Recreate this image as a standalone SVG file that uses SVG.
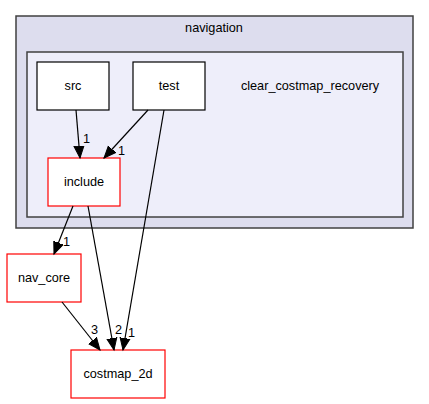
<svg xmlns="http://www.w3.org/2000/svg" width="429" height="404" viewBox="0 0 429 404">
<style>
text{font-family:"Liberation Sans",Arial,sans-serif;font-size:12.7px;fill:#000}
.c{text-anchor:middle}
.node{fill:#ffffff;stroke:#000;stroke-width:1.2}
.red{fill:#ffffff;stroke:#ff0000;stroke-width:1.2}
.edge{fill:none;stroke:#000;stroke-width:1.2}
</style>
<defs>
<marker id="ah" markerUnits="userSpaceOnUse" markerWidth="14" markerHeight="12" refX="12" refY="5" orient="auto" viewBox="0 0 14 10">
<path d="M0,0 L12,5 L0,10 Z" fill="#000" stroke="#000"/>
</marker>
</defs>
<rect width="429" height="404" fill="#ffffff"/>
<g id="cluster_navigation">
<rect x="16" y="16" width="397" height="212" fill="#ddddee" stroke="#404040" stroke-width="1.5"/>
<text class="c" x="214" y="32">navigation</text>
</g>
<g id="cluster_clear_costmap_recovery">
<rect x="27" y="52" width="376" height="165" fill="#eeeefa" stroke="#404040" stroke-width="1.5"/>
<text class="c" x="310" y="90">clear_costmap_recovery</text>
</g>
<g id="node_src">
<rect class="node" x="37" y="62" width="72" height="48"/>
<text class="c" x="73" y="90">src</text>
</g>
<g id="node_test">
<rect class="node" x="133" y="62" width="72" height="48"/>
<text class="c" x="169" y="90">test</text>
</g>
<g id="node_include">
<rect class="red" x="48" y="158" width="72" height="48"/>
<text class="c" x="84" y="186">include</text>
</g>
<g id="node_nav_core">
<rect class="red" x="7" y="254" width="74" height="48"/>
<text class="c" x="44" y="282">nav_core</text>
</g>
<g id="node_costmap_2d">
<rect class="red" x="71" y="350" width="94" height="48"/>
<text class="c" x="118" y="378">costmap_2d</text>
</g>
<g id="connectors">
<line class="edge" x1="76" y1="110" x2="80" y2="158" marker-end="url(#ah)"/>
<text x="83" y="143">1</text>
<line class="edge" x1="148" y1="110" x2="104" y2="158" marker-end="url(#ah)"/>
<text x="118" y="155">1</text>
<line class="edge" x1="164" y1="110" x2="123" y2="350" marker-end="url(#ah)"/>
<text x="128" y="337">1</text>
<line class="edge" x1="73" y1="206" x2="54" y2="254" marker-end="url(#ah)"/>
<text x="63" y="246">1</text>
<line class="edge" x1="88" y1="206" x2="114" y2="350" marker-end="url(#ah)"/>
<text x="115" y="334">2</text>
<line class="edge" x1="62" y1="302" x2="100" y2="350" marker-end="url(#ah)"/>
<text x="91" y="334">3</text>
</g>
</svg>
